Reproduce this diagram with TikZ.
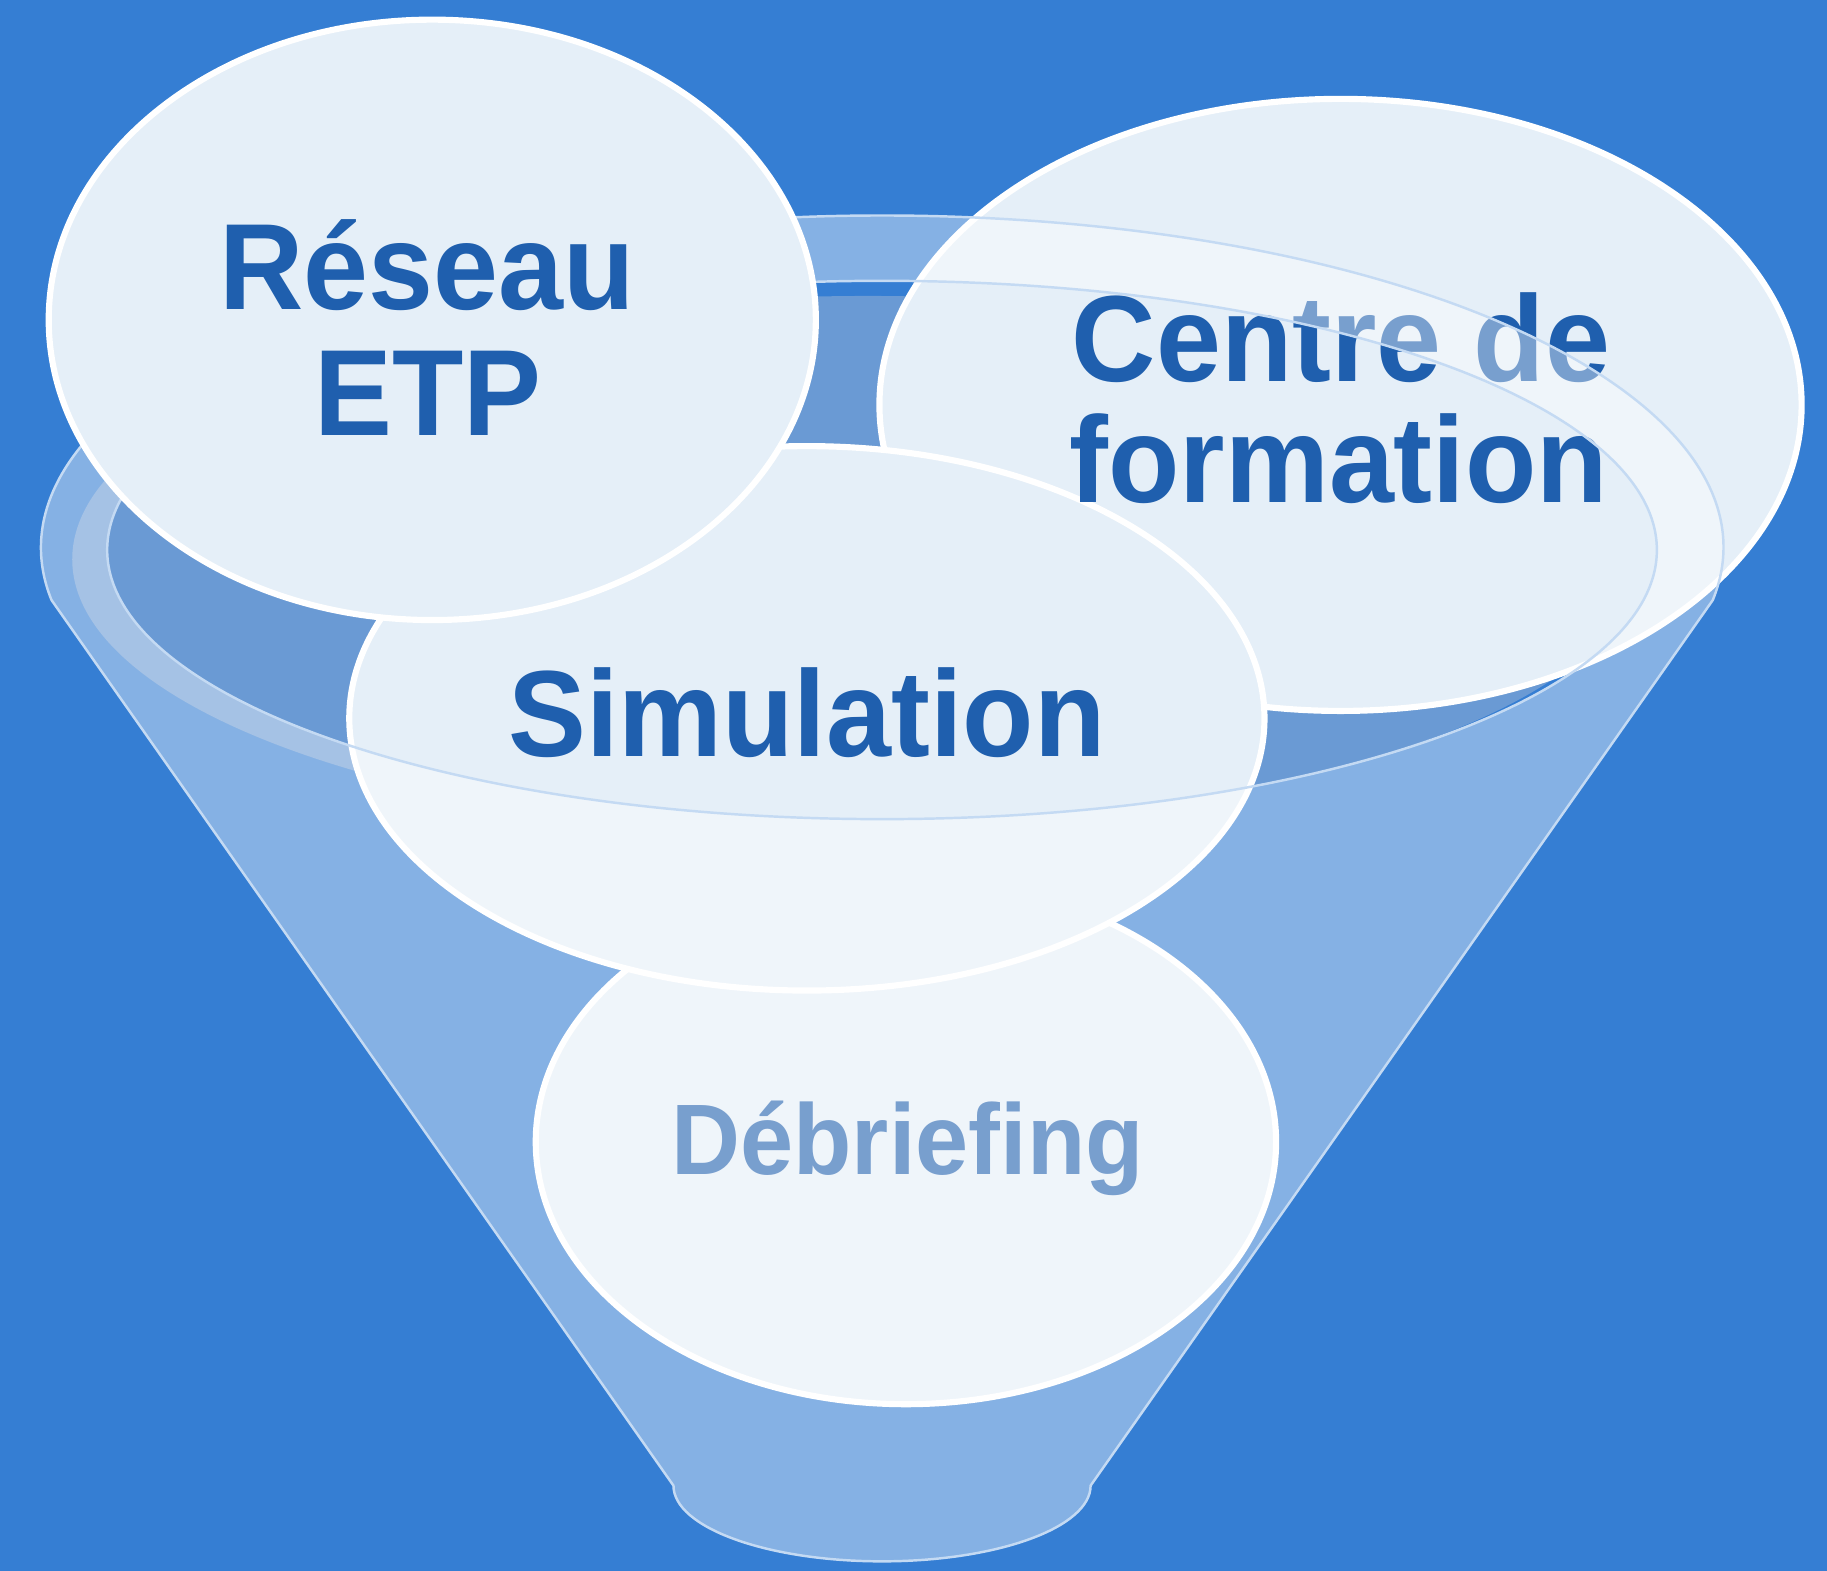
\documentclass[tikz,border=0pt]{standalone}
\usepackage{fontspec}
\usepackage{graphicx}
\setmainfont{Liberation Sans}
\usetikzlibrary{shapes.geometric}

\definecolor{bgblue}{HTML}{357ED3}
\definecolor{disc}{HTML}{E5EFF8}
\definecolor{ink}{HTML}{1F5FAE}
\definecolor{throat}{HTML}{6A9AD4}
\definecolor{rim}{HTML}{C4DAF3}

\newcommand{\tall}[1]{\scalebox{1}[1.05]{#1}}

\tikzset{
  bubble/.style={ellipse, draw=white, line width=1.5pt, fill=disc, inner sep=0pt},
  word/.style={text=ink, font=\bfseries\fontsize{28.5}{30}\selectfont, inner sep=0pt, anchor=base},
  smallword/.style={word, font=\bfseries\fontsize{23.3}{26}\selectfont},
  funnelfront/.style={fill=white, fill opacity=0.4, draw=rim, line width=0.6pt},
}

\begin{document}
\begin{tikzpicture}[x=0.01cm, y=-0.01cm]
  \useasboundingbox (0,0) rectangle (1568,1348);
  \fill[bgblue] (0,0) rectangle (1568,1348);

  \begin{scope}
    \clip (757,472) ellipse[x radius=665, y radius=231];
    \fill[throat] (745,480) ellipse[x radius=660, y radius=226];
  \end{scope}
  \begin{scope}
    \clip (0,0) rectangle (600,1348);
    \fill[throat] (727,480) ellipse[x radius=665, y radius=235];
  \end{scope}

  \node[bubble, minimum width=7.91cm, minimum height=5.25cm] (centre) at (1150.5,347.5) {};
  \node[bubble, minimum width=6.35cm, minimum height=4.5cm] (debrief) at (777.5,980) {};
  \node[bubble, minimum width=7.85cm, minimum height=4.67cm] (simul) at (692.5,616.5) {};

  \node[word] (centreA) at (1151,327.7) {\tall{Centre de}};
  \node[word] (centreB) at (1149,430.9) {\tall{formation}};
  \node[word] (simulT) at (692.5,649.4) {\tall{Simulation}};
  \node[smallword] (debriefT) at (779,1007.6) {\tall{Débriefing}};

  \path[funnelfront, even odd rule]
    (1470,515) arc[start angle=9.1, end angle=-189.1, x radius=722, y radius=285]
    -- (578,1275) arc[start angle=180, end angle=0, x radius=179, y radius=65] -- cycle
    (757,472) ellipse[x radius=665, y radius=231];

  \node[bubble, minimum width=6.58cm, minimum height=5.15cm] (reseau) at (371,274.5) {};
  \node[word] (reseauA) at (366.5,265.5) {\tall{Réseau}};
  \node[word] (reseauB) at (367.5,374) {\tall{ETP}};
\end{tikzpicture}
\end{document}
